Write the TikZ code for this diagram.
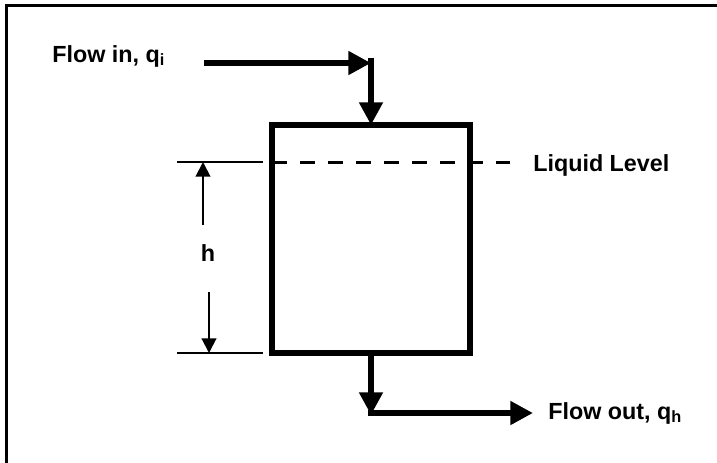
\documentclass[tikz,border=0pt]{standalone}
\usepackage{fontspec}
\setmainfont{Liberation Sans}
\usetikzlibrary{arrows.meta}

\tikzset{
  flow/.style={line width=5pt, -{Triangle[length=17pt, width=17pt]}},
  dimline/.style={line width=1.5pt},
  dimarrow/.style={line width=1.5pt, -{Triangle[length=11pt, width=11pt]}},
  label/.style={font=\fontsize{17.5}{20}\selectfont\bfseries, inner sep=0pt}
}

\begin{document}
\begin{tikzpicture}[x=0.75pt, y=-0.75pt]

    \useasboundingbox (0,0) rectangle (717,462);
    \clip (0,0) rectangle (717,462);

    % Frame
    \draw[line width=2.25pt] (6,5) rectangle (730,475);

    % Tank
    \node[draw, line width=4.1pt, minimum width=198*0.75pt, minimum height=228*0.75pt,
          inner sep=0pt, outer sep=0pt] (tank) at (371,239) {};

    % Liquid level
    \coordinate (lvl) at (tank.west |- 0,162);
    \coordinate (lvlend) at (510,162);
    \draw[line width=2.25pt, dash pattern=on 11.25pt off 9.75pt] (lvl) -- (lvlend);
    \node[label, anchor=base west] (lvltext) at (533,171) {Liquid Level};

    % Height h
    \coordinate (topA) at (177,162);
    \coordinate (topB) at (263,162);
    \coordinate (botA) at (177,353);
    \coordinate (botB) at (263,353);
    \draw[dimline] (topA) -- (topB);
    \draw[dimline] (botA) -- (botB);
    \node[label] (h) at (208,253) {h};
    \coordinate (upstart) at (203,225);
    \coordinate (uptip) at (203,162);
    \coordinate (downstart) at (209,292);
    \coordinate (downtip) at (209,353);
    \draw[dimarrow] (upstart) -- (uptip);
    \draw[dimarrow] (downstart) -- (downtip);

    % Flow in
    \node[label, anchor=base west] (intext) at (52,62) {Flow in, q\textsubscript{i}};
    \coordinate (instart) at (204,63);
    \coordinate (inbend) at (371,63);
    \draw[flow] (instart) -- (inbend);
    \draw[flow] (inbend |- 0,58) -- (tank.north);

    % Flow out
    \coordinate (outbend) at (371,415);
    \coordinate (outend) at (533,413);
    \draw[flow] (tank.south) -- (outbend);
    \draw[flow] (outbend |- 0,413) ++(-3,0) -- (outend);
    \node[label, anchor=base west] (outtext) at (548,419) {Flow out, q\textsubscript{h}};

\end{tikzpicture}
\end{document}
